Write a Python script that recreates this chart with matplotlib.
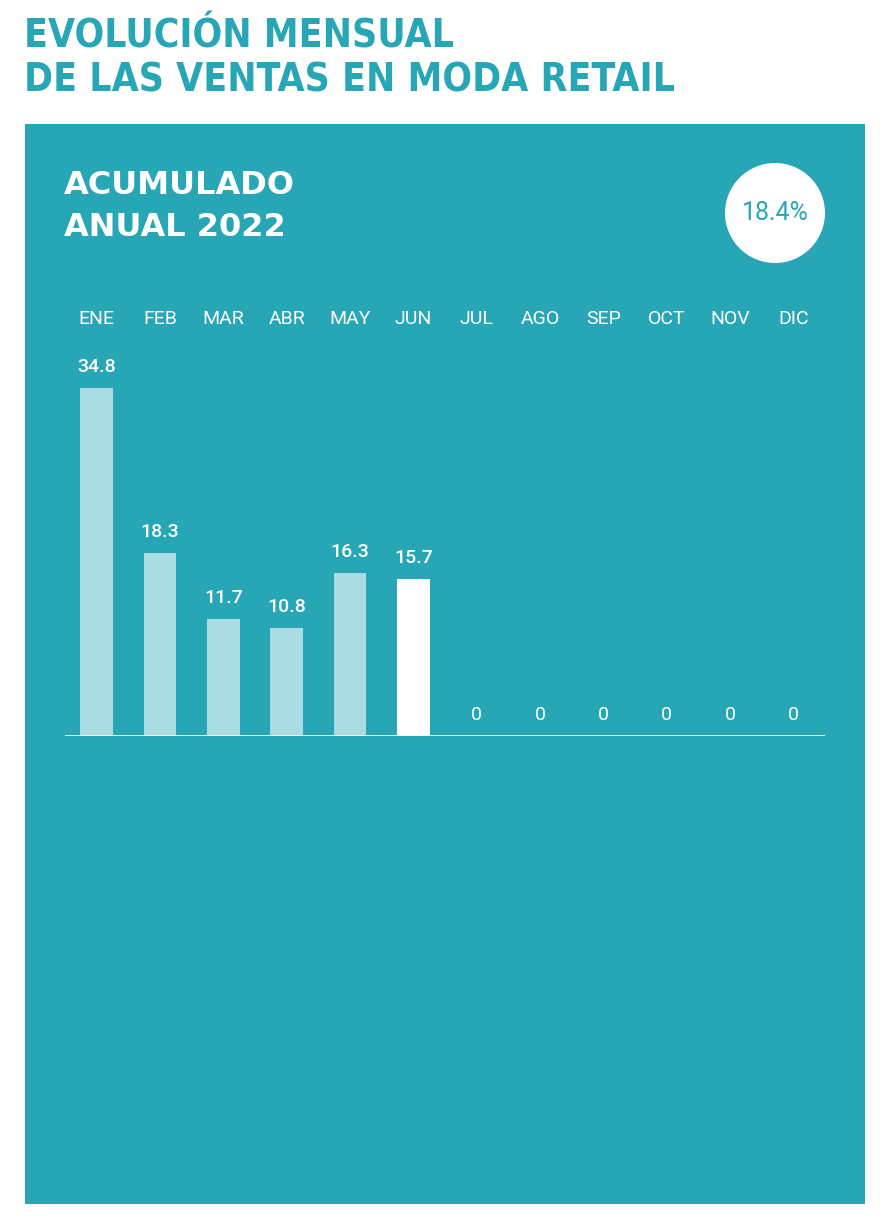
import matplotlib
matplotlib.use("Agg")
import matplotlib.pyplot as plt
from matplotlib.patches import Rectangle, Circle

W, H = 884, 1218
TEAL = "#27A6B5"
LIGHT = "#ABDCE3"

months = ["ENE", "FEB", "MAR", "ABR", "MAY", "JUN", "JUL", "AGO", "SEP", "OCT", "NOV", "DIC"]
values = [34.8, 18.3, 11.7, 10.8, 16.3, 15.7, 0, 0, 0, 0, 0, 0]
labels = ["34.8", "18.3", "11.7", "10.8", "16.3", "15.7", "0", "0", "0", "0", "0", "0"]
current = 5          # last month reported (drawn in white)
annual = "18.4%"


def fx(px):
    return px / W


def fy(py):
    return 1 - py / H


fig = plt.figure(figsize=(W / 100, H / 100), dpi=100, facecolor="white")

# teal panel
fig.patches.append(Rectangle((fx(25), fy(1204)), fx(840), 1080 / H, transform=fig.transFigure,
                             fc=TEAL, ec="none", zorder=0))

# headline
for py, txt in [(37, "EVOLUCIÓN MENSUAL"), (80, "DE LAS VENTAS EN MODA RETAIL")]:
    fig.text(fx(24), fy(py), txt, color=TEAL, fontsize=28, fontweight="bold",
             family="DejaVu Sans", fontstretch="condensed", va="center", ha="left")

# panel title
fig.text(fx(64), fy(186), "ACUMULADO", color="white", fontsize=23, fontweight="bold",
         family="DejaVu Sans", va="center", ha="left")
fig.text(fx(64), fy(227), "ANUAL 2022", color="white", fontsize=23, fontweight="bold",
         family="DejaVu Sans", va="center", ha="left")

# annual bubble (inch coordinates keep it round)
fig.patches.append(Circle((775 / 100, (H - 213) / 100), 0.5, transform=fig.dpi_scale_trans,
                          fc="white", ec="none", zorder=1))
fig.text(fx(775), fy(213), annual, color=TEAL, fontsize=18, family="Roboto",
         va="center", ha="center", zorder=2)

# bar chart
ax = fig.add_axes([fx(65), fy(736), 760 / W, (736 - 340) / H])
ax.set_zorder(5)
ax.set_facecolor("none")
ax.set_xlim(-0.5, 11.5)
ax.set_ylim(0, 39.6)
x = list(range(len(months)))
colors = ["white" if i == current else LIGHT for i in x]
ax.bar(x, values, width=0.52, color=colors, zorder=2)
ax.axhline(0, color="white", lw=2, zorder=3)
for i, (v, lab) in enumerate(zip(values, labels)):
    ax.text(i, v + 2.1, lab, color="white", fontsize=14, family="Roboto",
            fontweight="medium" if v > 0 else "normal", ha="center", va="center")
    ax.text(i, 41.7, months[i], color="white", fontsize=14, family="Roboto",
            ha="center", va="center", clip_on=False)
for sp in ax.spines.values():
    sp.set_visible(False)
ax.set_xticks([])
ax.set_yticks([])

fig.savefig("out.png", dpi=100, facecolor="white")
